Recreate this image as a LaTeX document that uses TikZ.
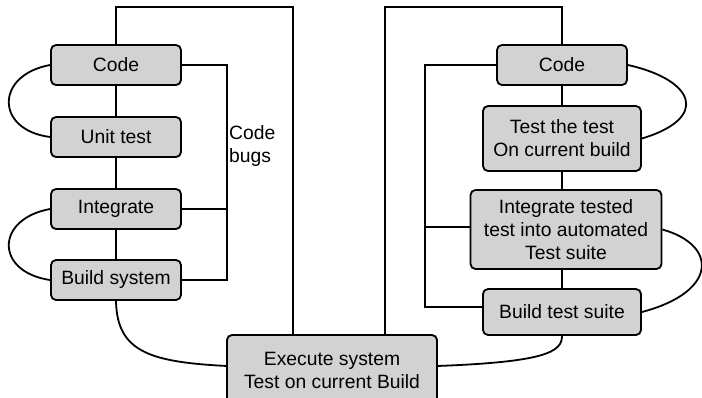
\documentclass[tikz,border=0pt]{standalone}
\usepackage{fontspec}
\setmainfont{Liberation Sans}
\begin{document}
\begin{tikzpicture}[x=1pt,y=-1pt,
  every node/.style={font=\fontsize{19.3}{23}\selectfont},
  proc/.style={draw=black, line width=1.8pt, fill={rgb,255:red,210;green,210;blue,210},
    rounded corners=5pt, inner sep=0pt, align=center},
  link/.style={line width=1.8pt, draw=black}]
\useasboundingbox (0,0) rectangle (702,397);

% development flow (left)
\node[proc, minimum width=130pt, minimum height=40pt] (lcode)  at (116,65)  {Code};
\node[proc, minimum width=130pt, minimum height=40pt] (lunit)  at (116,137) {Unit test};
\node[proc, minimum width=130pt, minimum height=40pt] (linteg) at (116,209) {Integrate};
\node[proc, minimum width=130pt, minimum height=40pt] (lbuild) at (116,280) {Build system};

% test development flow (right)
\node[proc, minimum width=130pt, minimum height=40pt] (rcode)  at (562,65)    {Code};
\node[proc, minimum width=158pt, minimum height=65pt] (rtest)  at (562,138.5) {Test the test\\On current build};
\node[proc, minimum width=191pt, minimum height=79pt] (rinteg) at (566,229.5) {Integrate tested\\test into automated\\Test suite};
\node[proc, minimum width=158pt, minimum height=46pt] (rbuild) at (562,312)   {Build test suite};

% shared execution step
\node[proc, minimum width=210pt, minimum height=70pt] (exec) at (332,370) {Execute system\\Test on current Build};

% label of the feedback bus
\node[anchor=west, align=left, inner sep=0pt] (bugs) at (229,146) {Code\\bugs};

% bus and loop coordinates
\coordinate (ltop) at (293,7);
\coordinate (lbus) at (227,0);
\coordinate (rtop) at (385,7);
\coordinate (rbus) at (425,0);
\coordinate (rbj)  at (425,307);
\coordinate (rij)  at (425,227);
\coordinate (lex)  at (227,366);
\coordinate (rex)  at (437,366);

% vertical chains
\draw[link] (lcode.south) -- (lunit.north);
\draw[link] (lunit.south) -- (linteg.north);
\draw[link] (linteg.south) -- (lbuild.north);
\draw[link] (rcode.south) -- (rtest.north);
\draw[link] (rtest.south) -- (rtest.south |- rinteg.north);
\draw[link] (rtest.south |- rinteg.south) -- (rtest.south |- rbuild.north);

% top loops into the execution step
\draw[link] (lcode.north) |- (ltop) -- (ltop |- exec.north);
\draw[link] (rcode.north) |- (rtop) -- (rtop |- exec.north);

% code bugs feedback (left)
\draw[link] (lcode.east) -| (lbus |- lbuild.east) -- (lbuild.east);
\draw[link] (linteg.east) -- (lbus |- linteg.east);

% feedback (right)
\draw[link] (rcode.west) -| (rbj) -- (rbj -| rbuild.west);
\draw[link] (rij) -- (rij -| rinteg.west);

% side loops
\draw[link] (lcode.west) .. controls (-5,75) and (-5,130) .. (lunit.west);
\draw[link] (linteg.west) .. controls (-5,219) and (-5,272) .. (lbuild.west);
\draw[link] (rcode.east) .. controls (695,80) and (710,118) .. (rtest.east);
\draw[link] (rinteg.east) .. controls (718,245) and (718,292) .. (rbuild.east);

% into the execution step
\draw[link] (lbuild.south) .. controls (117,352) and (150,362) .. (lex);
\draw[link] (rbuild.south) .. controls (562,352) and (545,362) .. (rex);
\end{tikzpicture}
\end{document}
